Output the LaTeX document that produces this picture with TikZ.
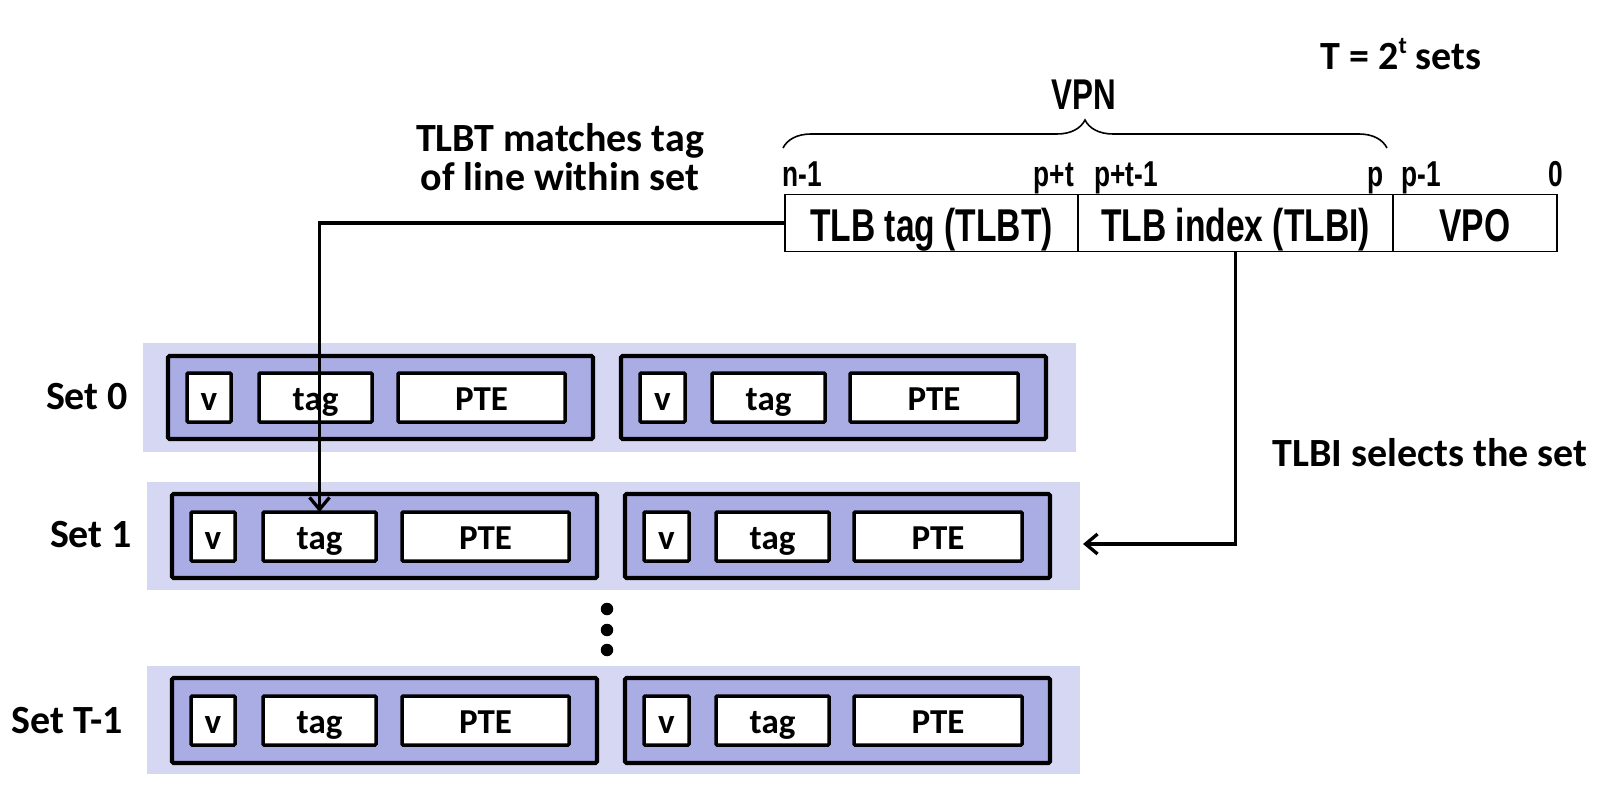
\documentclass[tikz,border=0pt]{standalone}
\usepackage{fontspec}
\newfontfamily\calfont{Carlito}
\newfontfamily\narrowfont[FakeStretch=0.73]{Liberation Sans}
\usetikzlibrary{arrows.meta,decorations.pathreplacing}
\definecolor{setbg}{RGB}{214,215,242}
\definecolor{linebg}{RGB}{170,173,228}
\newcommand\mkrect[7]{\node[#1, minimum width={((#5)-(#3))*1pt}, minimum height={((#6)-(#4))*1pt}] (#2) at ({((#3)+(#5))/2},{((#4)+(#6))/2}) {#7};}
\begin{document}
\begin{tikzpicture}[x=1pt,y=-1pt,
 setrow/.style={fill=setbg, draw=none, inner sep=0pt, outer sep=0pt},
 linebox/.style={fill=linebg, draw=black, line width=4.2pt, rounded corners=1.5pt, inner sep=0pt, outer sep=0pt},
 field/.style={fill=white, draw=black, line width=3.5pt, rounded corners=1pt, inner sep=0pt, outer sep=0pt, text height=34.5pt, text depth=8pt, font=\calfont\bfseries\fontsize{35}{40}\selectfont},
 addr/.style={fill=white, draw=black, line width=1.8pt, inner sep=0pt, outer sep=0pt, text height=47pt, text depth=10pt, font=\narrowfont\bfseries\fontsize{46}{50}\selectfont},
 bitlbl/.style={font=\narrowfont\bfseries\fontsize{36}{40}\selectfont, inner sep=0pt},
 biglbl/.style={font=\calfont\bfseries\fontsize{40}{39}\selectfont, inner sep=0pt, align=center},
 dot/.style={circle, fill=black, inner sep=0pt, minimum size=12.5pt},
 conn/.style={line width=3.3pt, -{Straight Barb[length=12pt,width=20pt]}},
]
\useasboundingbox (0,0) rectangle (1604,802);

% virtual address
\mkrect{addr}{tlbt}{785}{197}{1078}{249}{TLB tag (TLBT)}
\mkrect{addr}{tlbi}{1078}{197}{1393}{249}{TLB index (TLBI)}
\mkrect{addr}{vpo}{1393}{197}{1557}{249}{VPO}

\node[bitlbl, anchor=base west] (bn1) at (782,187) {n-1};
\node[bitlbl, anchor=base east] (bpt) at (1074,187) {p+t};
\node[bitlbl, anchor=base west] (bpt1) at (1094,187) {p+t-1};
\node[bitlbl, anchor=base east] (bp) at (1384,187) {p};
\node[bitlbl, anchor=base west] (bp1) at (1401,187) {p-1};
\node[bitlbl, anchor=base east] (b0) at (1563,187) {0};

\draw[line width=1.6pt, decorate, decoration={brace, amplitude=28pt}] (783,148) -- (1387,148);
\node[font=\narrowfont\bfseries\fontsize{43}{46}\selectfont, inner sep=0pt, anchor=base] (vpn) at (1084,110) {VPN};

\node[biglbl, anchor=base] (tsets) at (1401,70) {T = 2\raisebox{0.42em}{\fontsize{24}{24}\selectfont t} sets};

\node[biglbl, anchor=north] (tlbtlbl) at (560,123) {TLBT matches tag\\of line within set};
\node[biglbl, anchor=base] (tlbilbl) at (1430,466) {TLBI selects the set};

% sets
\foreach \r/\dx/\ba/\bb/\oa/\ob/\ia/\ib in {0/0/343/452/356/439/373/422, 1/4/482/590/494/578/512/561, 2/4/666/774/678/763/696/745}{
  \mkrect{setrow}{bg\r}{\dx+143}{\ba}{\dx+1076}{\bb}{}
  \mkrect{linebox}{la\r}{\dx+168}{\oa}{\dx+593}{\ob}{}
  \mkrect{linebox}{lb\r}{\dx+621}{\oa}{\dx+1046}{\ob}{}
  \mkrect{field}{va\r}{\dx+187}{\ia}{\dx+231}{\ib}{v}
  \mkrect{field}{taga\r}{\dx+259}{\ia}{\dx+372}{\ib}{tag}
  \mkrect{field}{ptea\r}{\dx+398}{\ia}{\dx+565}{\ib}{PTE}
  \mkrect{field}{vb\r}{\dx+640}{\ia}{\dx+685}{\ib}{v}
  \mkrect{field}{tagb\r}{\dx+712}{\ia}{\dx+825}{\ib}{tag}
  \mkrect{field}{pteb\r}{\dx+850}{\ia}{\dx+1018}{\ib}{PTE}
}

\node[biglbl] (set0) at (87,397) {Set 0};
\node[biglbl] (set1) at (91,535) {Set 1};
\node[biglbl] (set2) at (67,721) {Set T-1};

\node[dot] (d1) at (607,609) {};
\node[dot] (d2) at (607,630) {};
\node[dot] (d3) at (607,650) {};

% connectors
\draw[conn] (tlbt.west) -| (taga1.north);
\coordinate (selend) at (1083,544);
\draw[conn] (tlbi.south) |- (selend);
\end{tikzpicture}
\end{document}
